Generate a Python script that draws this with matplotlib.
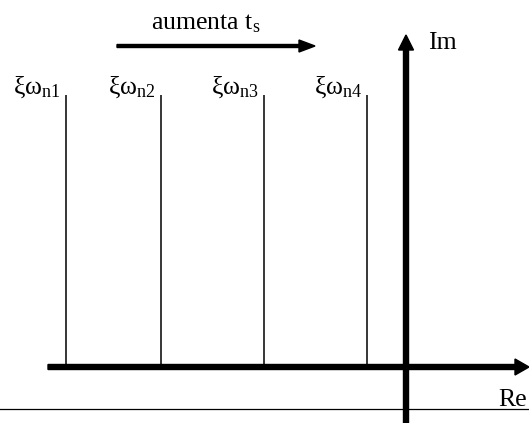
import matplotlib
matplotlib.use('Agg')
import matplotlib.pyplot as plt

# parte real de los polos (misma parte imaginaria), en unidades del dibujo
sigma = [-340, -245, -142, -39]
etiquetas = [r'ξω$_{\mathrm{n1}}$', r'ξω$_{\mathrm{n2}}$', r'ξω$_{\mathrm{n3}}$', r'ξω$_{\mathrm{n4}}$']
altura = 272

plt.rcParams['font.family'] = ['Liberation Serif', 'DejaVu Serif']
plt.rcParams['mathtext.fontset'] = 'custom'
plt.rcParams['mathtext.rm'] = 'Liberation Serif'
plt.rcParams['mathtext.it'] = 'Liberation Serif:italic'

fs = 18.5

fig = plt.figure(figsize=(5.29, 4.23), dpi=100)
ax = fig.add_axes([0, 0, 1, 1])
ax.set_xlim(-406, 123)
ax.set_ylim(-56, 367)
ax.axis('off')

# lineas verticales de los polos
ax.vlines(sigma, 0, altura, color='black', lw=1.1)
for s, et in zip(sigma, etiquetas):
    ax.text(s - 53, altura + 1, et, fontsize=fs, ha='left', va='baseline')

# eje real
ax.arrow(-358, 0, 481, 0, width=5, head_width=16, head_length=14,
         length_includes_head=True, color='black')
ax.text(92, -39, 'Re', fontsize=fs, ha='left', va='baseline')

# eje imaginario
ax.arrow(0, -56, 0, 388, width=5, head_width=15, head_length=15,
         length_includes_head=True, color='black')
ax.text(22, 318, 'Im', fontsize=fs, ha='left', va='baseline')

# linea fina inferior
ax.plot([-406, 123], [-42, -42], color='black', lw=0.9)

# flecha superior
ax.arrow(-289, 321, 198, 0, width=3, head_width=12, head_length=16,
         length_includes_head=True, color='black')
ax.text(-255, 338, r'aumenta t$_{\mathrm{s}}$', fontsize=fs, ha='left', va='baseline')

fig.savefig('out.png', dpi=100)
